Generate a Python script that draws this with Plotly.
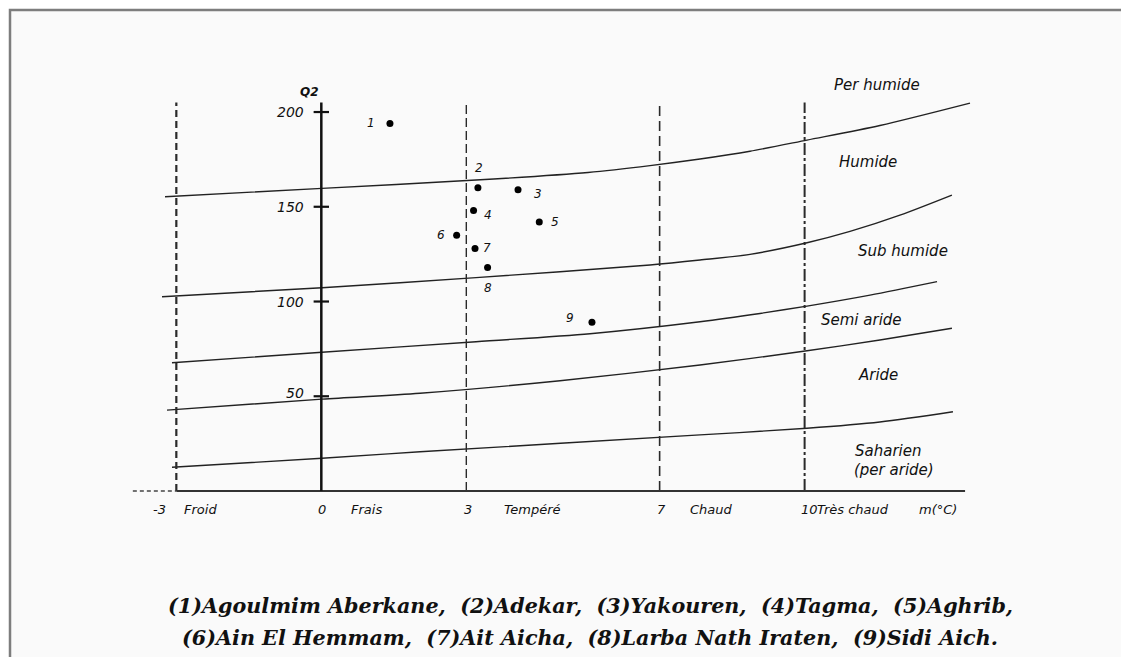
import plotly.graph_objects as go

# ---------------- data ----------------
# Emberger climagram: x = m (°C), y = Q2
station_ids = ["1", "2", "3", "4", "5", "6", "7", "8", "9"]
station_m = [1.42, 3.24, 4.07, 3.15, 4.51, 2.80, 3.18, 3.44, 5.60]
station_q2 = [194, 160, 159, 148, 142, 135, 128, 118, 89]

# bioclimatic boundary curves
b1_m = [-3.234, 0.014, 3.201, 5.518, 6.801, 7.836, 8.870, 10.050, 11.558, 13.422]
b1_q = [155.3, 159.7, 164.1, 168.1, 171.7, 175.2, 179.3, 185.2, 192.9, 204.7]
b2_m = [-3.296, 0.014, 3.201, 6.801, 7.836, 8.870, 10.050, 10.939, 11.972, 13.048]
b2_q = [102.5, 107.3, 112.6, 119.3, 121.9, 124.9, 131.0, 137.0, 145.6, 156.2]
b3_m = [-3.090, 0.014, 3.201, 5.560, 7.836, 9.077, 10.050, 11.354, 12.740]
b3_q = [67.7, 73.2, 78.8, 83.0, 89.3, 93.7, 97.6, 103.4, 110.5]
b4_m = [-3.193, 0.014, 2.042, 4.939, 7.836, 10.050, 11.558, 13.048]
b4_q = [42.7, 48.5, 51.6, 58.2, 66.5, 74.0, 79.7, 85.9]
b5_m = [-3.090, 0.014, 2.042, 7.836, 10.050, 11.558, 13.069]
b5_q = [12.5, 17.3, 20.7, 29.6, 33.1, 36.4, 41.8]

# temperature classes (x ticks)
m_ticks = [-3, 0, 3, 7, 10]
m_tick_text = ["-3", "0", "3", "7", "10"]
m_class = ["Froid", "Frais", "Tempéré", "Chaud", "Très chaud"]
q2_ticks = [50, 100, 150, 200]
q2_tick_text = ["50", "100", "150", "200"]

zones = ["Per humide", "Humide", "Sub humide", "Semi aride", "Aride",
         "Saharien", "(per aride)"]

caption_1 = "(1)Agoulmim Aberkane,  (2)Adekar,  (3)Yakouren,  (4)Tagma,  (5)Aghrib,"
caption_2 = "(6)Ain El Hemmam,  (7)Ait Aicha,  (8)Larba Nath Iraten,  (9)Sidi Aich."

# ---------------- layout helpers ----------------
OFF = 8                      # default page body margin
W, H = 1129 - OFF, 657 - OFF
X_RANGE = [-6.483, 16.712]
Y_RANGE = [-87.6, 254.9]
Q_TOP = 205
M_END = 13.32
M_LEFT = -3.9

ink = "#111111"
sans = "DejaVu Sans, Arial, sans-serif"
lab_font = dict(family=sans, size=13, color=ink)

fig = go.Figure()

# bioclimatic curves
for mx, qy in [(b1_m, b1_q), (b2_m, b2_q), (b3_m, b3_q), (b4_m, b4_q), (b5_m, b5_q)]:
    fig.add_trace(go.Scatter(x=mx, y=qy, mode="lines",
                             line=dict(color="#222", width=1.4, shape="spline", smoothing=0.8),
                             hoverinfo="skip", showlegend=False))

# vertical class boundaries
dash_styles = {-3: ("7px,4px", 2.2), 3: ("9px,4px", 1.4), 7: ("10px,5px", 1.6),
               10: ("12px,3px,3px,3px", 2.0)}
for mv in [-3, 3, 7, 10]:
    d, w = dash_styles[mv]
    fig.add_trace(go.Scatter(x=[mv, mv], y=[0, Q_TOP], mode="lines",
                             line=dict(color="#2a2a2a", width=w, dash=d),
                             hoverinfo="skip", showlegend=False))

# baseline
fig.add_trace(go.Scatter(x=[-3, M_END], y=[0, 0], mode="lines",
                         line=dict(color="#333", width=1.8),
                         hoverinfo="skip", showlegend=False))
fig.add_trace(go.Scatter(x=[M_LEFT, -3], y=[0, 0], mode="lines",
                         line=dict(color="#444", width=1.5, dash="4px,3px"),
                         hoverinfo="skip", showlegend=False))

# Q2 axis at m = 0
fig.add_trace(go.Scatter(x=[0, 0], y=[0, Q_TOP], mode="lines",
                         line=dict(color="#111", width=2.5),
                         hoverinfo="skip", showlegend=False))
fig.add_trace(go.Scatter(x=[0] * len(q2_ticks), y=q2_ticks, mode="markers",
                         marker=dict(symbol="line-ew", size=11,
                                     line=dict(color="#111", width=2.2)),
                         hoverinfo="skip", showlegend=False))

# stations
fig.add_trace(go.Scatter(x=station_m, y=station_q2, mode="markers",
                         marker=dict(color="#000", size=7),
                         hoverinfo="skip", showlegend=False))

ann = []
# station labels (pixel offsets)
lab_off = [(-19, 0), (1, 20), (20, -4), (14, -4), (16, 0), (-16, 0), (12, 0), (0, -21), (-22, 4)]
for sid, mx, qy, (dx, dy) in zip(station_ids, station_m, station_q2, lab_off):
    ann.append(dict(x=mx, y=qy, text="<i>%s</i>" % sid, showarrow=False,
                    xshift=dx, yshift=dy, font=dict(lab_font, size=12)))

# Q2 tick labels
for qv, qt in zip(q2_ticks, q2_tick_text):
    ann.append(dict(x=0, y=qv, text="<i>%s</i>" % qt, showarrow=False,
                    xanchor="right", xshift=-15, yshift=3 if qv == 50 else 0,
                    font=dict(lab_font, size=14)))
ann.append(dict(x=0, y=210.5, text="<b><i>Q2</i></b>", showarrow=False,
                xshift=-12, font=dict(lab_font, size=12)))

# m tick labels and class names (left-anchored, pixel offsets from the line)
num_shift = {-3: -25, 0: -5, 3: -4, 7: -5, 10: -6}
cls_shift = {-3: 6, 0: 28, 3: 36, 7: 28, 10: 10}
for mv, mt, mc in zip(m_ticks, m_tick_text, m_class):
    ann.append(dict(x=mv, y=0, text="<i>%s</i>" % mt, showarrow=False, xanchor="left",
                    xshift=num_shift[mv], yshift=-18, font=lab_font))
    ann.append(dict(x=mv, y=0, text="<i>%s</i>" % mc, showarrow=False, xanchor="left",
                    xshift=cls_shift[mv], yshift=-18, font=lab_font))
ann.append(dict(x=M_END, y=0, text="<i>m(°C)</i>", showarrow=False, xanchor="left",
                xshift=-48, yshift=-18, font=lab_font))

# zone labels
zone_pos = [(11.50, 214.2), (11.31, 173.6), (12.03, 126.6), (11.18, 90.2),
            (11.52, 61.2), (11.72, 21.1), (11.85, 11.1)]
for z, (zx, zy) in zip(zones, zone_pos):
    ann.append(dict(x=zx, y=zy, text="<i>%s</i>" % z, showarrow=False,
                    font=dict(lab_font, size=15)))

# caption
cap_font = dict(family="DejaVu Serif, Liberation Serif, serif", size=20.7, color="#111")
ann.append(dict(xref="paper", yref="paper", x=(590 - OFF) / W, y=1 - (606 - OFF) / H,
                xanchor="center", yanchor="middle",
                text="<b><i>%s</i></b>" % caption_1.replace("  ", "&nbsp; "),
                showarrow=False, font=cap_font))
ann.append(dict(xref="paper", yref="paper", x=(590 - OFF) / W, y=1 - (638 - OFF) / H,
                xanchor="center", yanchor="middle",
                text="<b><i>%s</i></b>" % caption_2.replace("  ", "&nbsp; "),
                showarrow=False, font=cap_font))

fig.update_layout(
    width=W, height=H, autosize=False,
    margin=dict(l=0, r=0, t=0, b=0),
    paper_bgcolor="white", plot_bgcolor="rgba(0,0,0,0)",
    xaxis=dict(range=X_RANGE, visible=False, fixedrange=True),
    yaxis=dict(range=Y_RANGE, visible=False, fixedrange=True),
    annotations=ann,
    shapes=[dict(type="rect", xref="paper", yref="paper", layer="below",
                 x0=(10 - OFF) / W, x1=1.02, y0=-0.02, y1=1 - (10 - OFF) / H,
                 line=dict(color="#7d7d7d", width=2.5), fillcolor="#fafafa")],
    showlegend=False,
)

fig.write_html("out.html")
